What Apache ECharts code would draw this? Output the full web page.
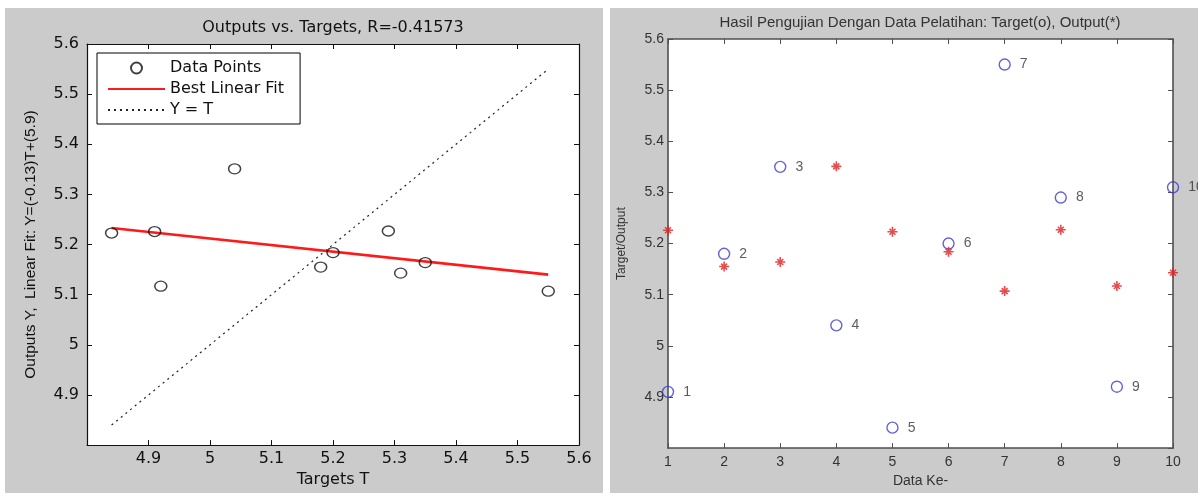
<!DOCTYPE html>
<html>
<head>
<meta charset="utf-8">
<script src="https://cdn.jsdelivr.net/npm/echarts@6/dist/echarts.min.js"></script>
<style>
html, body { margin: 0; padding: 0; background: #fff; }
#main { width: 1198px; height: 493px; }
</style>
</head>
<body>
<div id="main"></div>
<script>
// data
var dataKe = [1, 2, 3, 4, 5, 6, 7, 8, 9, 10];
var targets = [4.91, 5.18, 5.35, 5.04, 4.84, 5.20, 5.55, 5.29, 4.92, 5.31];
var outputs = [5.226, 5.155, 5.164, 5.351, 5.223, 5.184, 5.107, 5.227, 5.117, 5.143];
var fitT = [4.84, 5.55];
var fitY = [5.233, 5.140];
var identT = [4.84, 5.55];

var dom = document.getElementById('main');
var myChart = echarts.init(dom);

var gray = '#cbcbcb';
var leftFont = 'DejaVu Sans';
var rightFont = 'Liberation Sans';

var pairs = targets.map(function (t, i) { return [t, outputs[i]]; });
var targetPts = dataKe.map(function (k, i) { return [k, targets[i]]; });
var outputPts = dataKe.map(function (k, i) { return [k, outputs[i]]; });

function boxAxis(opt) {
    // plain MATLAB-like axis: box line, inward ticks
    var base = {
        type: 'value',
        splitLine: { show: false },
        axisLine: { show: true, lineStyle: { color: opt.color, width: opt.lw } },
        axisTick: { show: true, inside: true, length: 5, lineStyle: { color: opt.color } },
        axisLabel: { show: false }
    };
    for (var k in opt.extra) base[k] = opt.extra[k];
    return base;
}

var leftAxisColor = '#111';
var rightAxisColor = '#505050';
var noDot = { color: 'rgba(0,0,0,0)', borderWidth: 0 };

myChart.setOption({
    backgroundColor: '#fff',
    animation: false,
    graphic: [
        { type: 'rect', z: -1, shape: { x: 5, y: 8, width: 598, height: 485 }, style: { fill: gray } },
        { type: 'rect', z: -1, shape: { x: 610, y: 8, width: 588, height: 485 }, style: { fill: gray } },
        { type: 'text', z: 10, x: 333, y: 28, style: {
            text: 'Outputs vs. Targets, R=-0.41573', textAlign: 'center', textVerticalAlign: 'middle',
            font: '16px "DejaVu Sans"', fill: '#111' } },
        { type: 'text', z: 10, x: 920, y: 23, style: {
            text: 'Hasil Pengujian Dengan Data Pelatihan: Target(o), Output(*)', textAlign: 'center', textVerticalAlign: 'middle',
            font: '15px "Liberation Sans"', fill: '#333' } }
    ],
    legend: {
        data: [
            { name: 'Data Points' },
            { name: 'Best Linear Fit', itemStyle: noDot },
            { name: 'Y = T', itemStyle: noDot }
        ],
        orient: 'vertical',
        left: 97,
        top: 53,
        backgroundColor: '#fff',
        borderColor: '#000',
        borderWidth: 1,
        borderRadius: 0,
        padding: [7, 16, 6, 10],
        itemGap: 5,
        itemWidth: 57,
        itemHeight: 11,
        selectedMode: false,
        textStyle: { fontFamily: leftFont, fontSize: 16, color: '#111' }
    },
    grid: [
        { left: 87, top: 44, width: 492, height: 408, show: true, backgroundColor: '#fff', borderWidth: 0 },
        { left: 668, top: 39, width: 505, height: 412, show: true, backgroundColor: '#fff', borderWidth: 0 }
    ],
    xAxis: [
        boxAxis({ color: leftAxisColor, lw: 1.2, extra: {
            gridIndex: 0, position: 'bottom', min: 4.8, max: 5.6, interval: 0.1,
            axisLabel: { show: true, showMinLabel: false, margin: 6, fontFamily: leftFont, fontSize: 16, color: '#111' },
            name: 'Targets T', nameLocation: 'middle', nameGap: 24,
            nameTextStyle: { fontFamily: leftFont, fontSize: 16, color: '#111' }
        } }),
        boxAxis({ color: leftAxisColor, lw: 1.2, extra: {
            gridIndex: 0, position: 'top', min: 4.8, max: 5.6, interval: 0.1
        } }),
        boxAxis({ color: rightAxisColor, lw: 1.6, extra: {
            gridIndex: 1, position: 'bottom', min: 1, max: 10, interval: 1,
            axisLabel: { show: true, margin: 7, fontFamily: rightFont, fontSize: 14, color: '#333' },
            name: 'Data Ke-', nameLocation: 'middle', nameGap: 25,
            nameTextStyle: { fontFamily: rightFont, fontSize: 14, color: '#333' }
        } }),
        boxAxis({ color: rightAxisColor, lw: 1.6, extra: {
            gridIndex: 1, position: 'top', min: 1, max: 10, interval: 1
        } })
    ],
    yAxis: [
        boxAxis({ color: leftAxisColor, lw: 1.2, extra: {
            gridIndex: 0, position: 'left', min: 4.8, max: 5.6, interval: 0.1,
            axisLabel: { show: true, showMinLabel: false, margin: 8, fontFamily: leftFont, fontSize: 16, color: '#111' },
            name: 'Outputs Y,  Linear Fit: Y=(-0.13)T+(5.9)', nameLocation: 'middle', nameGap: 48,
            nameTextStyle: { fontFamily: 'Liberation Sans', fontSize: 15.5, color: '#111' }
        } }),
        boxAxis({ color: leftAxisColor, lw: 1.2, extra: {
            gridIndex: 0, position: 'right', min: 4.8, max: 5.6, interval: 0.1
        } }),
        boxAxis({ color: rightAxisColor, lw: 1.6, extra: {
            gridIndex: 1, position: 'left', min: 4.8, max: 5.6, interval: 0.1,
            axisLabel: { show: true, showMinLabel: false, margin: 4, fontFamily: rightFont, fontSize: 14, color: '#333' },
            name: 'Target/Output', nameLocation: 'middle', nameGap: 40,
            nameTextStyle: { fontFamily: rightFont, fontSize: 12, color: '#333' }
        } }),
        boxAxis({ color: rightAxisColor, lw: 1.6, extra: {
            gridIndex: 1, position: 'right', min: 4.8, max: 5.6, interval: 0.1
        } })
    ],
    series: [
        {
            name: 'Y = T',
            type: 'line',
            xAxisIndex: 0, yAxisIndex: 0,
            symbol: 'none',
            data: identT.map(function (t) { return [t, t]; }),
            lineStyle: { color: '#222', width: 1.2, type: [2, 4] },
            itemStyle: { color: '#222' },
            z: 2
        },
        {
            name: 'Best Linear Fit',
            type: 'line',
            xAxisIndex: 0, yAxisIndex: 0,
            symbol: 'none',
            data: fitT.map(function (t, i) { return [t, fitY[i]]; }),
            lineStyle: { color: '#ff1a1a', width: 2.6 },
            itemStyle: { color: '#ff1a1a' },
            z: 3
        },
        {
            name: 'Data Points',
            type: 'scatter',
            xAxisIndex: 0, yAxisIndex: 0,
            clip: false,
            symbol: 'circle',
            symbolSize: [12, 10],
            data: pairs,
            itemStyle: { color: 'rgba(0,0,0,0)', borderColor: '#111', borderWidth: 1.4 },
            z: 4
        },
        {
            name: 'Target',
            type: 'scatter',
            xAxisIndex: 2, yAxisIndex: 2,
            clip: false,
            symbol: 'circle',
            symbolSize: 11,
            data: targetPts,
            itemStyle: { color: 'rgba(0,0,0,0)', borderColor: '#3b3bd2', borderWidth: 1.4 },
            label: {
                show: true, position: 'right', distance: 9,
                fontFamily: rightFont, fontSize: 14, color: '#333',
                formatter: function (p) { return String(dataKe[p.dataIndex]); }
            },
            z: 4
        },
        {
            name: 'Output',
            type: 'scatter',
            xAxisIndex: 2, yAxisIndex: 2,
            clip: false,
            symbol: 'path://M5,0L5,10M0,5L10,5M2,2L8,8M2,8L8,2',
            symbolSize: 10,
            data: outputPts,
            itemStyle: { color: 'none', borderColor: '#e02020', borderWidth: 1.6 },
            z: 5
        }
    ]
});

window.onresize = function () {
    myChart.resize();
};
</script>
</body>
</html>
